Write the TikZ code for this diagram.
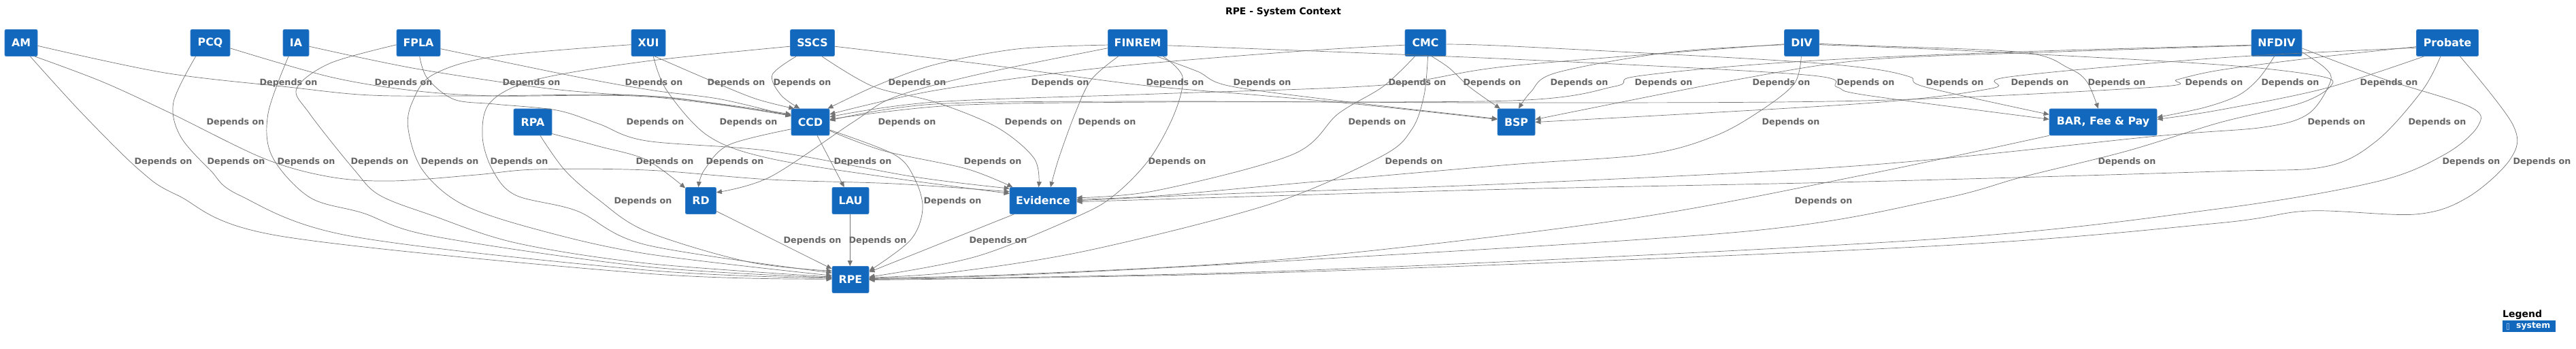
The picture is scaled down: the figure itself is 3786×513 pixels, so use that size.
\documentclass[tikz,border=0pt]{standalone}
\usepackage{fontspec}
\setmainfont{DejaVu Sans}
\usetikzlibrary{arrows.meta}
\definecolor{sysblue}{HTML}{1168BD}
\definecolor{sysedge}{HTML}{3B80C6}
\definecolor{linegray}{HTML}{747474}
\definecolor{lblgray}{HTML}{666666}
\newcommand\edgeplot[1]{\draw[dline] plot[smooth,tension=0.55] coordinates {#1};}
\begin{document}
\begin{tikzpicture}[x=1pt,y=1pt,
  sys/.style={rectangle,rounded corners=2pt,fill=sysblue,draw=sysedge,line width=0.8pt,text=white,font=\bfseries\fontsize{15.8}{18}\selectfont,minimum height=39pt,inner sep=0pt},
  dlbl/.style={text=lblgray,font=\bfseries\fontsize{12.7}{14}\selectfont,inner sep=0pt},
  dline/.style={draw=linegray,line width=0.7pt,-{Triangle[length=8pt,width=7pt]}}]
\useasboundingbox (0,0) rectangle (3786,-513);

% title
\node[font=\bfseries\fontsize{13.9}{16}\selectfont,inner sep=0pt] (title) at (1886,-18) {RPE - System Context};

% nodes
\node[sys,minimum width=48pt] (AM) at (31,-63) {AM};
\node[sys,minimum width=58pt] (PCQ) at (309,-63) {PCQ};
\node[sys,minimum width=38pt] (IA) at (435,-63) {IA};
\node[sys,minimum width=64pt] (FPLA) at (615,-63) {FPLA};
\node[sys,minimum width=50pt] (XUI) at (953,-63) {XUI};
\node[sys,minimum width=65pt] (SSCS) at (1194,-63) {SSCS};
\node[sys,minimum width=87pt] (FINREM) at (1672,-63) {FINREM};
\node[sys,minimum width=60pt] (CMC) at (2095,-63) {CMC};
\node[sys,minimum width=51pt] (DIV) at (2648,-63) {DIV};
\node[sys,minimum width=74pt] (NFDIV) at (3346,-63) {NFDIV};
\node[sys,minimum width=91pt] (Probate) at (3597,-63) {Probate};
\node[sys,minimum width=56pt] (RPA) at (783,-179.5) {RPA};
\node[sys,minimum width=56pt] (CCD) at (1191,-179.5) {CCD};
\node[sys,minimum width=55pt] (BSP) at (2228.5,-179.5) {BSP};
\node[sys,minimum width=158pt] (BAR) at (3091,-179.5) {BAR, Fee \& Pay};
\node[sys,minimum width=45pt] (RD) at (1030,-295) {RD};
\node[sys,minimum width=54pt] (LAU) at (1250,-295) {LAU};
\node[sys,minimum width=98pt] (Evidence) at (1533,-295) {Evidence};
\node[sys,minimum width=54pt] (RPE) at (1250,-411) {RPE};

% labels
\foreach \n/\x in {1/424,2/593,3/781,4/961,5/1082,6/1179,7/1348,8/1558,9/1727,10/1855,11/2083,12/2193,13/2321,14/2445,15/2618,16/2742,17/2873,18/2998,19/3111,20/3254,21/3366,22/3511}
  \node[dlbl] (l\n) at (\x,-122) {Depends on};
\foreach \n/\x in {23/346,24/963,25/1100,26/1333,27/1519,28/1627,29/2024,30/2632,31/3434,32/3582}
  \node[dlbl] (l\n) at (\x,-180) {Depends on};
\foreach \n/\x in {33/240,34/347,35/450,36/558,37/661,38/763,39/977,40/1080,41/1268,42/1459,43/1730,44/2078,45/3126,46/3632,47/3736}
  \node[dlbl] (l\n) at (\x,-238) {Depends on};
\foreach \n/\x in {48/945,49/1400,50/2680}
  \node[dlbl] (l\n) at (\x,-296) {Depends on};
\foreach \n/\x in {51/1194,52/1290,53/1467}
  \node[dlbl] (l\n) at (\x,-354) {Depends on};

% edges into CCD / BSP / BAR
\edgeplot{(AM.-10) (242,-107) (424,-128) (545,-140) (700,-141) (950,-141) (CCD.158)}
\edgeplot{(PCQ.-15) (485,-113) (606,-133) (727,-141) (950,-142) (CCD.160)}
\edgeplot{(IA.-15) (606,-100) (781,-127) (879,-137) (1000,-145) (CCD.162)}
\edgeplot{(FPLA.-15) (848,-113) (961,-133) (1060,-146) (CCD.163)}
\edgeplot{(XUI.-65) (1041,-117) (1110,-145) (CCD.140)}
\edgeplot{(SSCS.-140) (1135,-110) (1148,-140) (CCD.128)}
\edgeplot{(FINREM.184) (1495,-72) (1374,-95) (1290,-125) (CCD.38)}
\edgeplot{(CMC.186) (1900,-76) (1617,-100) (1374,-133) (CCD.22)}
\edgeplot{(SSCS.-9) (1450,-95) (1677,-125) (1850,-140) (1993,-153) (BSP.172)}
\edgeplot{(FINREM.-35) (1760,-105) (1810,-127) (2000,-152) (BSP.170)}
\edgeplot{(DIV.184) (2220,-97) (2033,-125) (1700,-138) (1374,-150) (CCD.15)}
\edgeplot{(CMC.-65) (2130,-100) (2160,-128) (BSP.140)}
\edgeplot{(DIV.186) (2453,-77) (2287,-107) (2250,-135) (BSP.80)}
\edgeplot{(NFDIV.185) (3000,-75) (2743,-85) (2553,-97) (2400,-113) (2373,-127) (2220,-148) (1700,-150) (1400,-155) (CCD.8)}
\edgeplot{(NFDIV.186) (3000,-77) (2743,-88) (2553,-117) (BSP.8)}
\edgeplot{(FINREM.-5) (2223,-87) (2653,-110) (2700,-128) (2743,-140) (BAR.177)}
\edgeplot{(CMC.-4) (2223,-68) (2600,-88) (2743,-100) (2807,-113) (2830,-128) (BAR.172)}
\edgeplot{(Probate.189) (3263,-85) (2953,-113) (2927,-130) (2740,-152) (BSP.0)}
\edgeplot{(DIV.-3) (2740,-67) (2973,-77) (3040,-100) (3067,-120) (BAR.110)}
\edgeplot{(Probate.187) (3400,-85) (3263,-103) (3200,-117) (3167,-128) (2740,-148) (2220,-151) (1700,-149) (1374,-153) (CCD.5)}
\edgeplot{(NFDIV.-100) (3320,-115) (3290,-140) (3240,-158) (BAR.5)}
\edgeplot{(Probate.-150) (3417,-130) (3260,-162) (BAR.3)}

% edges into Evidence / RD
\edgeplot{(AM.-45) (150,-120) (250,-166) (388,-233) (485,-260) (576,-266) (700,-257) (788,-249) (950,-250) (1132,-264) (1314,-270) (Evidence.165)}
\edgeplot{(FPLA.-85) (628,-115) (667,-146) (727,-153) (818,-162) (880,-182) (950,-207) (1132,-222) (1344,-260) (Evidence.160)}
\edgeplot{(XUI.-70) (980,-133) (1041,-200) (1132,-233) (1314,-262) (Evidence.168)}
\edgeplot{(FINREM.190) (1435,-110) (1314,-143) (1253,-180) (1132,-260) (RD.28)}
\edgeplot{(SSCS.-55) (1283,-127) (1374,-150) (1465,-187) (1520,-233) (Evidence.108)}
\edgeplot{(FINREM.-145) (1604,-117) (1580,-167) (1556,-233) (Evidence.61)}
\edgeplot{(CMC.-128) (2033,-127) (1967,-167) (1900,-227) (1700,-280) (Evidence.5)}
\edgeplot{(DIV.-92) (2637,-123) (2587,-163) (2520,-200) (2420,-227) (2220,-242) (1900,-270) (1700,-288) (Evidence.2)}
\edgeplot{(NFDIV.-20) (3417,-100) (3425,-120) (3393,-167) (3327,-187) (3170,-200) (2740,-243) (2220,-270) (1800,-285) (Evidence.0)}
\edgeplot{(Probate.-117) (3560,-133) (3493,-207) (3417,-245) (3260,-252) (2740,-267) (2220,-278) (1800,-290) (Evidence.-2)}

% edges into RPE and rank-2 to rank-4
\edgeplot{(AM.-56) (121,-167) (205,-250) (261,-287) (412,-347) (950,-402) (RPE.178)}
\edgeplot{(PCQ.-137) (255,-150) (265,-200) (309,-250) (352,-287) (515,-347) (950,-397) (RPE.176)}
\edgeplot{(IA.-119) (394,-167) (400,-230) (455,-290) (533,-313) (636,-347) (950,-392) (RPE.174)}
\edgeplot{(FPLA.185) (485,-93) (436,-130) (455,-167) (521,-250) (558,-287) (636,-317) (758,-357) (950,-387) (RPE.172)}
\edgeplot{(XUI.186) (727,-83) (636,-110) (606,-150) (600,-190) (621,-250) (679,-300) (788,-337) (950,-373) (RPE.168)}
\edgeplot{(SSCS.189) (950,-90) (788,-117) (721,-150) (709,-200) (724,-250) (758,-287) (848,-310) (950,-360) (RPE.160)}
\edgeplot{(RPA.-31) (880,-215) (950,-235) (RD.141)}
\edgeplot{(CCD.-160) (1071,-213) (1035,-250) (RD.100)}
\draw[dline] (CCD.-63) -- (LAU.115);
\edgeplot{(CCD.-24) (1300,-222) (1420,-248) (Evidence.156)}
\edgeplot{(FINREM.-28) (1738,-113) (1726,-167) (1690,-233) (1640,-285) (1586,-317) (1435,-377) (RPE.8)}
\edgeplot{(CMC.-80) (2093,-140) (2075,-190) (2030,-230) (1867,-300) (1600,-368) (1400,-400) (RPE.6)}
\edgeplot{(DIV.-6) (2900,-75) (3260,-95) (3410,-112) (3425,-127) (3380,-152) (3263,-180) (3126,-222) (2973,-260) (2850,-293) (2567,-340) (1900,-383) (1500,-404) (RPE.3)}
\edgeplot{(NFDIV.-12) (3500,-115) (3630,-157) (3642,-185) (3593,-227) (3493,-267) (3260,-307) (2836,-352) (1900,-398) (RPE.1)}
\edgeplot{(Probate.-47) (3693,-183) (3690,-233) (3627,-290) (3550,-315) (3393,-310) (3260,-328) (2836,-362) (1900,-400) (RPE.-1)}
\edgeplot{(RPA.-61) (830,-250) (879,-293) (950,-340) (1100,-385) (RPE.155)}
\edgeplot{(CCD.-22) (1314,-227) (1344,-262) (1356,-307) (1338,-353) (RPE.25)}
\edgeplot{(BAR.-166) (2740,-257) (2385,-323) (1900,-380) (1500,-403) (RPE.4)}
\draw[dline] (RD.-34) -- (RPE.150);
\draw[dline] (LAU.-92) -- (RPE.92);
\draw[dline] (Evidence.-155) -- (RPE.22);

% legend
\node[anchor=west,font=\bfseries\fontsize{14}{16}\selectfont,inner sep=0pt] (legend) at (3678,-463) {Legend};
\node[fill=sysblue,anchor=north west,minimum width=78pt,minimum height=17pt,inner sep=0pt,text=white,font=\bfseries\fontsize{12.4}{14}\selectfont] (legsys) at (3678,-471) {\hspace{12pt}system};
\node[draw=sysblue!55!white,line width=0.4pt,minimum width=3pt,minimum height=9pt,inner sep=0pt] (glyph) at (3686,-480) {};
\end{tikzpicture}
\end{document}
